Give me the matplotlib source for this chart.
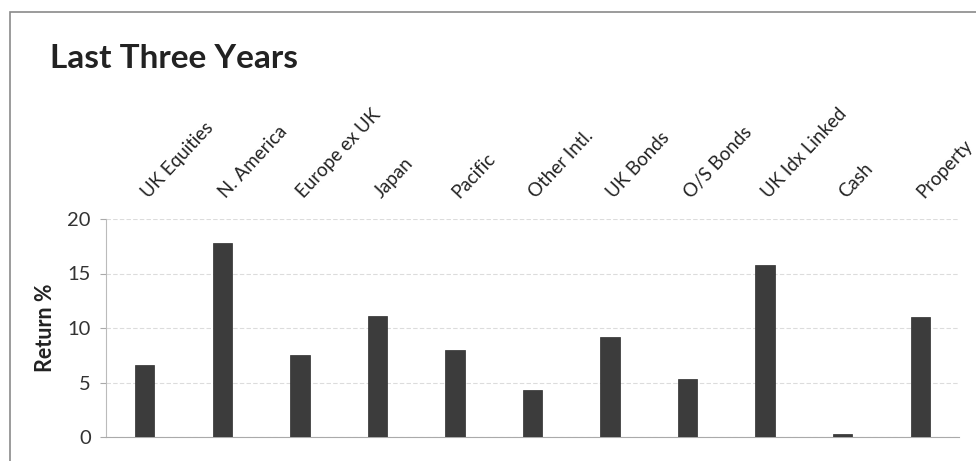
import matplotlib
matplotlib.use("Agg")
import matplotlib.pyplot as plt
import matplotlib.transforms as mtransforms
from matplotlib.patches import Rectangle

categories = ["UK Equities", "N. America", "Europe ex UK", "Japan", "Pacific",
              "Other Intl.", "UK Bonds", "O/S Bonds", "UK Idx Linked", "Cash", "Property"]
returns = [6.6, 17.8, 7.5, 11.1, 8.0, 4.3, 9.2, 5.3, 15.8, 0.3, 11.0]
yticks = [0, 5, 10, 15, 20]

plt.rcParams['font.family'] = ['Lato', 'DejaVu Sans']

W, H = 976, 461
fig = plt.figure(figsize=(W / 100, H / 100), dpi=100)
fig.patch.set_facecolor('white')

# outer frame
fig.patches.append(Rectangle((10 / W, -0.1), 1.2, (H - 12.5) / H + 0.1,
                             transform=fig.transFigure, fill=False,
                             edgecolor='#8a8a8a', linewidth=1.2))

ax = fig.add_axes([106 / W, (H - 437) / H, (959 - 106) / W, (437 - 219) / H])
x = list(range(len(categories)))
ax.bar(x, returns, width=0.25, color='#3c3c3c', edgecolor='#2e2e2e', linewidth=0.5, zorder=3)

ax.set_xlim(-0.5, len(categories) - 0.5)
ax.set_ylim(0, 20)
ax.set_yticks(yticks)
ax.set_yticklabels([str(t) for t in yticks], fontsize=14.5, color='#333333')
ax.yaxis.grid(True, color='#dcdcdc', linewidth=0.8, linestyle=(0, (4, 2)), zorder=0)

ax.xaxis.tick_top()
ax.set_xticks(x)
ax.set_xticklabels(categories, rotation=47, ha='left', va='bottom',
                   rotation_mode='anchor', fontsize=13.5, color='#222222')
ax.tick_params(axis='x', length=0, pad=13)
ax.tick_params(axis='y', length=4, color='#aaaaaa', pad=7)
offset = mtransforms.ScaledTranslation(6 / 100, 0, fig.dpi_scale_trans)
for lbl in ax.get_xticklabels():
    lbl.set_transform(lbl.get_transform() + offset)

for s in ['top', 'right']:
    ax.spines[s].set_visible(False)
ax.spines['left'].set_color('#bbbbbb')
ax.spines['bottom'].set_color('#aaaaaa')

ax.set_ylabel("Return %", fontsize=15.5, fontweight='bold', color='#222222', labelpad=8)

fig.text(50 / W, 1 - 68 / H, "Last Three Years", fontsize=24, fontweight='bold',
         color='#222222', ha='left', va='baseline')

fig.savefig("out.png", dpi=100, facecolor='white')
